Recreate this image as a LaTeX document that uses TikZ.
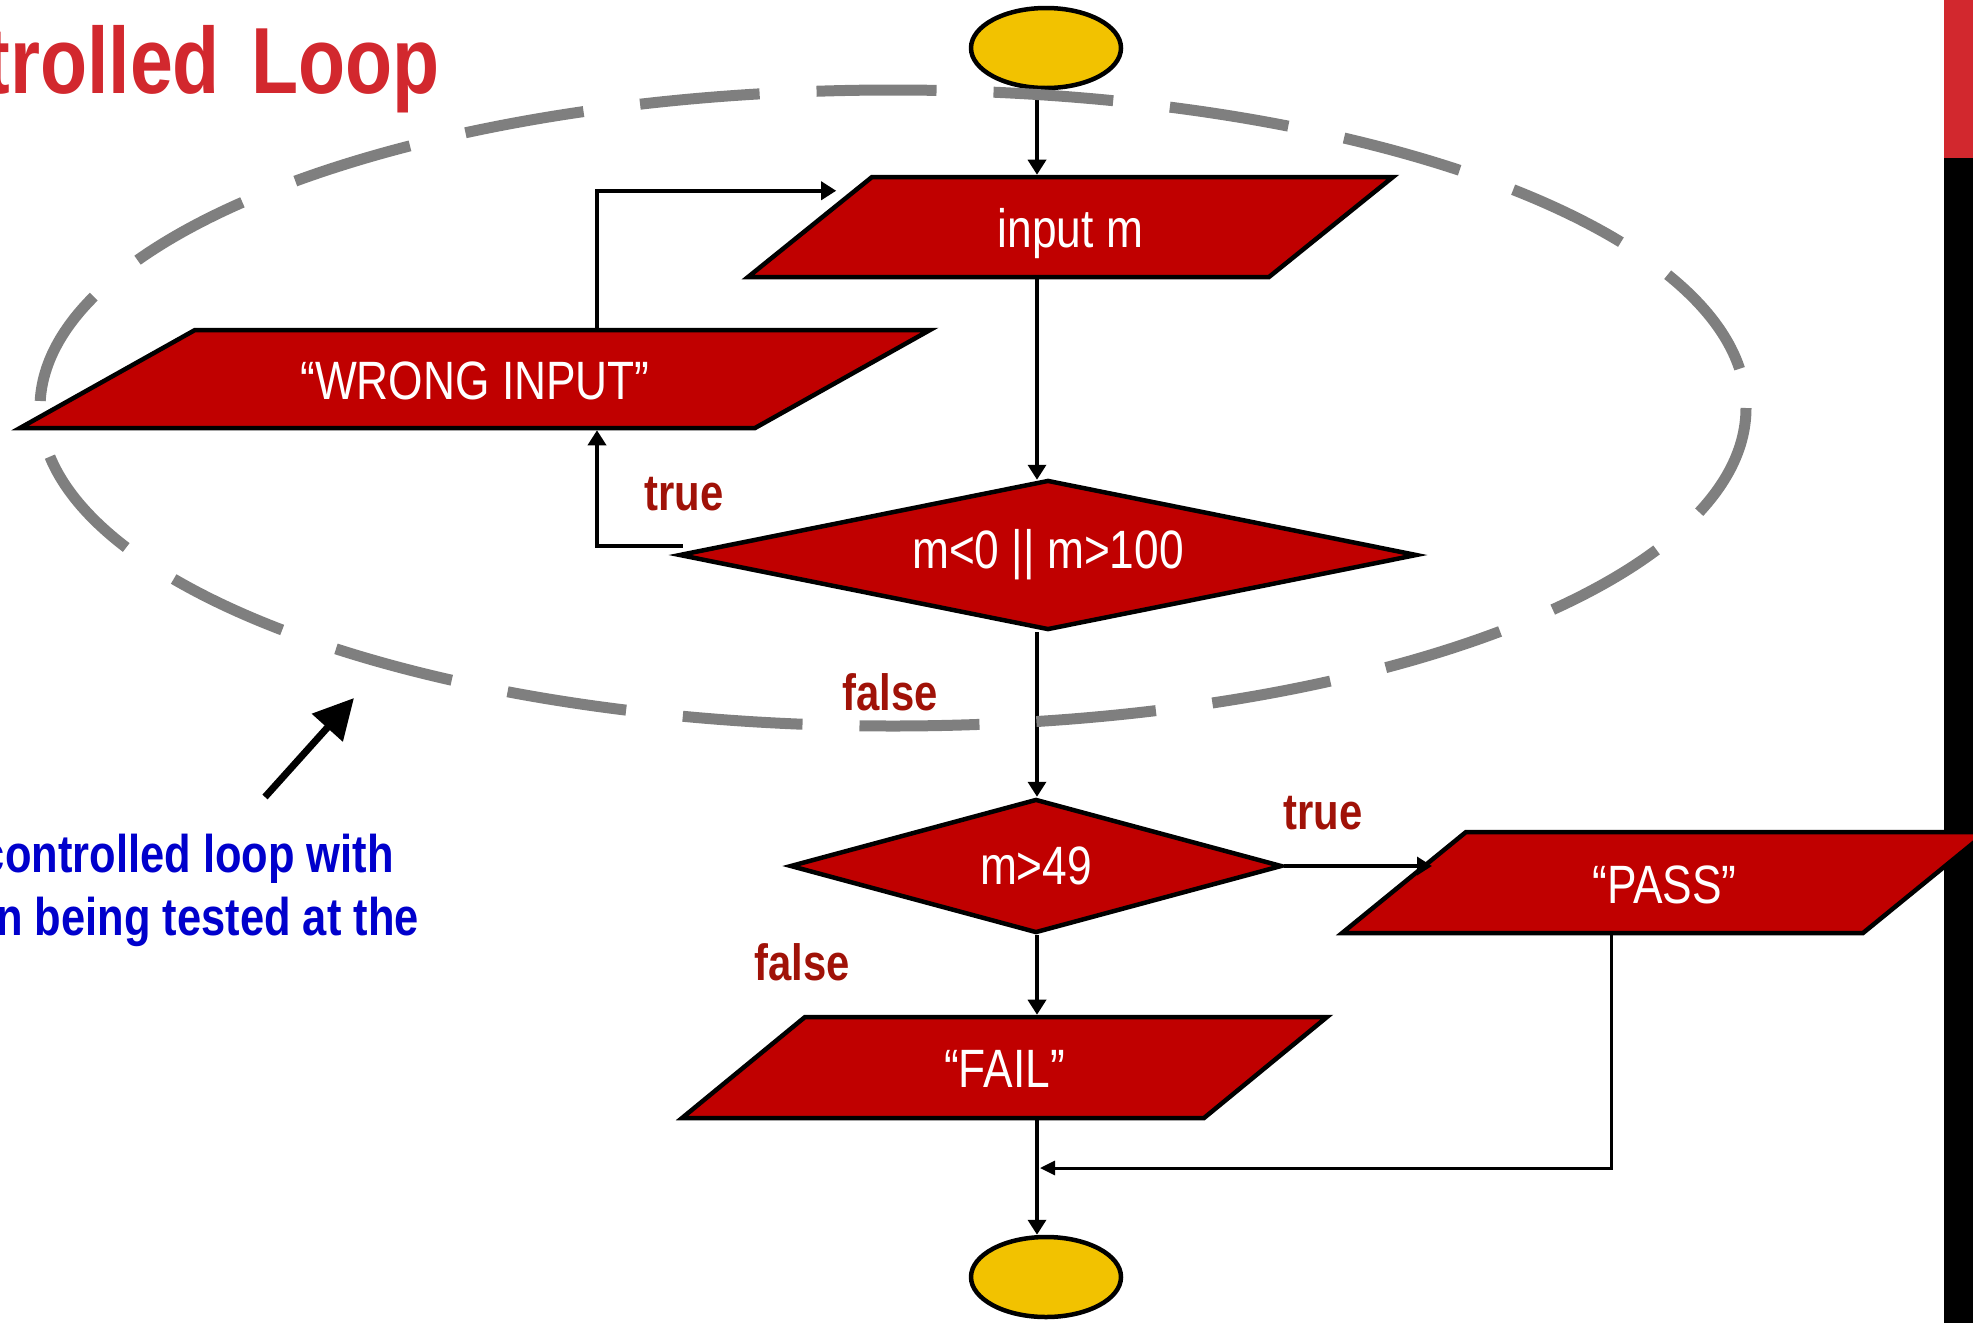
\documentclass[tikz,border=0pt]{standalone}
\usepackage{fontspec}
\setmainfont{Liberation Sans}
\newfontfamily\narrowsans[FakeStretch=0.82]{Liberation Sans}
\usetikzlibrary{shapes.geometric,arrows.meta}

\definecolor{boxred}{RGB}{192,0,0}
\definecolor{termyellow}{RGB}{242,194,0}
\definecolor{ringgray}{RGB}{127,127,127}
\definecolor{titlered}{RGB}{210,40,46}
\definecolor{labelred}{RGB}{160,18,8}
\definecolor{noteblue}{RGB}{0,0,204}

\begin{document}
\begin{tikzpicture}[x=1pt,y=-1pt,
  shapetext/.style={text=white, font=\narrowsans\fontsize{54pt}{60pt}\selectfont},
  % parallelogram: the text box is fixed, the slanted legs are added around it
  iobox/.style={trapezium, draw=black, line width=4.5pt, fill=boxred, shapetext,
    inner sep=0pt, align=flush center, minimum width=1pt, minimum height=1pt},
  decision/.style={diamond, draw=black, line width=4.5pt, fill=boxred, shapetext, inner sep=0pt},
  terminal/.style={ellipse, draw=black, line width=4.5pt, fill=termyellow, inner sep=0pt,
    minimum width=150pt, minimum height=80pt},
  flow/.style={draw=black, line width=3.5pt, -{Triangle[length=15pt,width=18pt]}},
  thinflow/.style={draw=black, line width=3pt, -{Triangle[length=15pt,width=14pt]}},
  branch/.style={text=labelred, inner sep=0pt, font=\narrowsans\bfseries\fontsize{51pt}{56pt}\selectfont},
  titletext/.style={text=titlered, inner sep=0pt, font=\narrowsans\bfseries\fontsize{94pt}{100pt}\selectfont},
  notetext/.style={text=noteblue, inner sep=0pt, font=\narrowsans\bfseries\fontsize{53pt}{60pt}\selectfont},
  ring/.style={draw=ringgray, line width=11pt, dash pattern=on 120pt off 57pt, dash phase=180pt}
]
\useasboundingbox (0,0) rectangle (1973,1323);
\clip (0,0) rectangle (1973,1323);

% side bar on the right edge
\fill[black] (1944,0) rectangle (1973,1323);
\fill[titlered] (1944,0) rectangle (1973,158);

% guide coordinates for the connector lines
\coordinate (spine) at (1037,0);
\coordinate (loopx) at (597,0);
\coordinate (passdrop) at (1611,0);
\coordinate (passentry) at (1432,0);

% flowchart nodes
\node[terminal] (start) at (1046,48) {};
\node[iobox, text width=397pt, text height=70pt, text depth=30pt,
  trapezium left angle=38.9, trapezium right angle=141.1] (inp) at (1070.5,227) {input m};
\node[iobox, text width=560pt, text height=69pt, text depth=29pt,
  trapezium left angle=29.25, trapezium right angle=150.75] (wrong) at (475,379) {“WRONG INPUT”};
\node[decision, minimum width=738pt, minimum height=150pt, aspect=4.9] (range) at (1048,555) {m<0 || m>100};
\node[decision, minimum width=492pt, minimum height=134pt, aspect=3.7] (grade) at (1036,866) {m>49};
\node[iobox, text width=397pt, text height=71pt, text depth=30pt,
  trapezium left angle=39.2, trapezium right angle=140.8] (pass) at (1664.5,882.5) {“PASS”};
\node[iobox, text width=399pt, text height=70pt, text depth=31pt,
  trapezium left angle=39.4, trapezium right angle=140.6] (fail) at (1004.5,1067.5) {“FAIL”};
\node[terminal] (stop) at (1046,1277) {};

% connectors
\draw[flow] (start.south -| spine) -- (inp.north -| spine);
\draw[flow] (inp.south -| spine) -- ([yshift=-2pt]range.north -| spine);
\draw[flow] (range.south -| spine) -- (grade.north -| spine);
\draw[flow] (grade.south -| spine) -- (fail.north -| spine);
\draw[flow] (fail.south -| spine) -- (stop.north -| spine);
\draw[flow] (grade.east) -- (grade.east -| passentry);
\draw[flow] ([xshift=6pt,yshift=9pt]range.west) -| (wrong.south -| loopx);
\draw[flow] (wrong.north -| loopx) |- ([xshift=-35pt,yshift=-16pt]inp.top left corner);
\coordinate (merge) at (1040,1168);
\draw[thinflow] (pass.south -| passdrop) |- (merge);

% branch labels
\node[branch, anchor=base] (ltrue1) at (684,510) {true};
\node[branch, anchor=base] (lfalse1) at (890,710) {false};
\node[branch, anchor=base] (ltrue2) at (1323,829) {true};
\node[branch, anchor=base] (lfalse2) at (802,980) {false};

% dashed ring marking the loop
\draw[ring] (893,408) ellipse [x radius=853, y radius=318];

% heading and side note
\node[titletext, anchor=base east] (title) at (440,93) {trolled \hspace{10pt}Loop};
\node[notetext, anchor=base east] (note1) at (394,872) {controlled loop with};
\node[notetext, anchor=base east] (note2) at (419,935) {n being tested at the};
\coordinate (notetail) at (265,797);
\coordinate (notetip) at (354,698);
\draw[line width=7pt, -{Triangle[length=40pt,width=40pt]}] (notetail) -- (notetip);
\end{tikzpicture}
\end{document}
